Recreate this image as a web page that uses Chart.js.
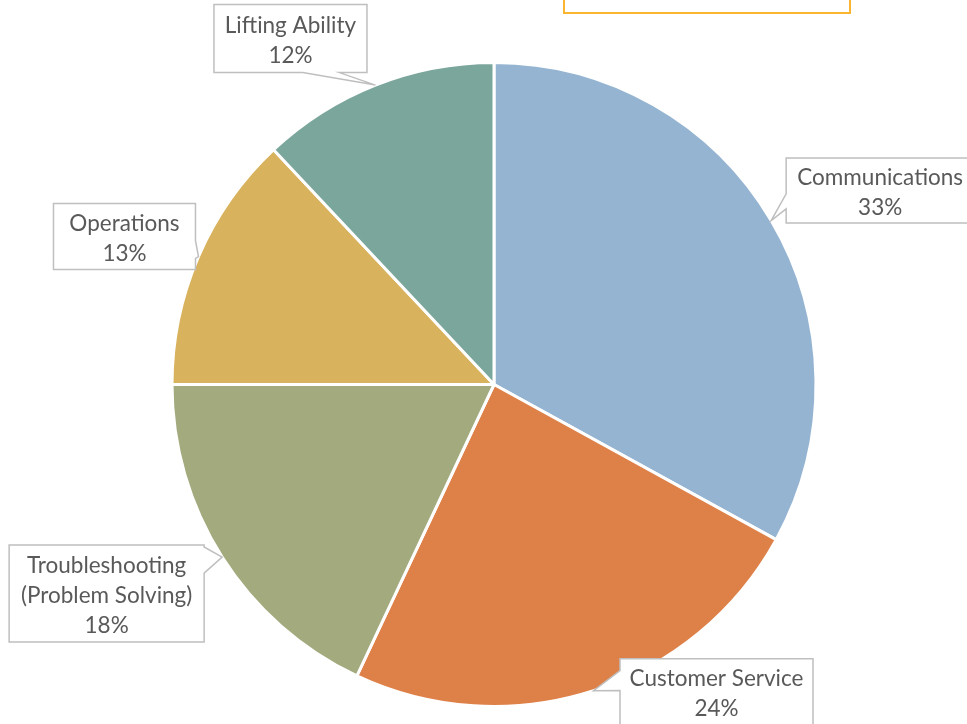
<!DOCTYPE html>
<html>
<head>
<meta charset="utf-8">
<script src="https://cdn.jsdelivr.net/npm/chart.js@4/dist/chart.umd.min.js"></script>
<style>
  html, body { margin: 0; padding: 0; background: #fff; }
  #wrap { width: 967px; height: 724px; }
</style>
</head>
<body>
<div id="wrap"><canvas id="skills-chart" width="967" height="724"></canvas></div>
<script>
// slice names and values (percent of responses)
var categories = ['Communications', 'Customer Service', ['Troubleshooting', '(Problem Solving)'], 'Operations', 'Lifting Ability'];
var shares = [33, 24, 18, 13, 12];
var sliceColors = ['#95B4D1', '#DE8148', '#A3AA7E', '#D8B25C', '#7BA69B'];

// callout boxes: offset of box centre from the slice tip, size, and where the pointer leaves the box
var calloutBoxes = [
    { dx: 109, dy: -30, w: 188, h: 65, side: 'left', f1: 0.55, f2: 0.78 },
    { dx: 123, dy: 1, w: 193, h: 66, side: 'left', f1: 0.18, f2: 0.48 },
    { dx: -115.5, dy: 36.5, w: 195, h: 97, side: 'right', f1: 0.02, f2: 0.29 },
    { dx: -74, dy: -20, w: 142, h: 66, side: 'right', f1: 0.56, f2: 0.83 },
    { dx: -85, dy: -46.5, w: 153, h: 68, side: 'bottom', f1: 0.58, f2: 0.82 }
];

var calloutPlugin = {
    id: 'callouts',
    afterDatasetsDraw: function(chart, args, opts) {
        var ctx = chart.ctx;
        var meta = chart.getDatasetMeta(0);
        var values = chart.data.datasets[0].data;
        var total = values.reduce(function(a, b) { return a + b; }, 0);
        meta.data.forEach(function(arc, i) {
            var p = arc.getProps(['x', 'y', 'startAngle', 'endAngle', 'outerRadius'], true);
            var mid = (p.startAngle + p.endAngle) / 2;
            var tx = p.x + Math.cos(mid) * p.outerRadius;
            var ty = p.y + Math.sin(mid) * p.outerRadius;
            var c = opts.boxes[i];
            var cx = tx + c.dx, cy = ty + c.dy;
            var l = cx - c.w / 2, t = cy - c.h / 2, r = l + c.w, b = t + c.h;

            ctx.save();
            ctx.beginPath();
            ctx.moveTo(l, t);
            if (c.side === 'top') { ctx.lineTo(l + c.f1 * c.w, t); ctx.lineTo(tx, ty); ctx.lineTo(l + c.f2 * c.w, t); }
            ctx.lineTo(r, t);
            if (c.side === 'right') { ctx.lineTo(r, t + c.f1 * c.h); ctx.lineTo(tx, ty); ctx.lineTo(r, t + c.f2 * c.h); }
            ctx.lineTo(r, b);
            if (c.side === 'bottom') { ctx.lineTo(l + c.f2 * c.w, b); ctx.lineTo(tx, ty); ctx.lineTo(l + c.f1 * c.w, b); }
            ctx.lineTo(l, b);
            if (c.side === 'left') { ctx.lineTo(l, t + c.f2 * c.h); ctx.lineTo(tx, ty); ctx.lineTo(l, t + c.f1 * c.h); }
            ctx.closePath();
            ctx.fillStyle = '#ffffff';
            ctx.fill();
            ctx.lineWidth = 1.5;
            ctx.strokeStyle = '#BFBFBF';
            ctx.stroke();

            var label = chart.data.labels[i];
            var lines = Array.isArray(label) ? label.slice() : [label];
            lines.push(Math.round(values[i] / total * 100) + '%');
            ctx.font = '22.5px Lato, "Open Sans", sans-serif';
            ctx.fillStyle = '#595959';
            ctx.textAlign = 'center';
            ctx.textBaseline = 'middle';
            var lh = 30;
            var y0 = cy + 2 - (lines.length - 1) * lh / 2;
            lines.forEach(function(txt, k) {
                ctx.fillText(txt, cx, y0 + k * lh);
            });
            ctx.restore();
        });
    },
    afterDraw: function(chart) {
        // empty title box, cut off at the top edge
        var ctx = chart.ctx;
        ctx.save();
        ctx.strokeStyle = '#FBB631';
        ctx.lineWidth = 2;
        ctx.strokeRect(564, -10, 286, 23);
        ctx.restore();
    }
};

document.addEventListener("DOMContentLoaded", function() {
    var ctx = document.getElementById('skills-chart').getContext('2d');
    var chart = new Chart(ctx, {
        type: 'pie',
        data: {
            labels: categories,
            datasets: [{
                data: shares,
                backgroundColor: sliceColors,
                borderColor: '#ffffff',
                borderWidth: 3
            }]
        },
        options: {
            responsive: false,
            animation: false,
            devicePixelRatio: 1,
            layout: { padding: { top: 61, bottom: 16, left: 21, right: 0 } },
            plugins: {
                legend: { display: false },
                tooltip: { enabled: false },
                callouts: { boxes: calloutBoxes }
            }
        },
        plugins: [calloutPlugin]
    });
    window.chart = chart;
});
</script>
</body>
</html>
